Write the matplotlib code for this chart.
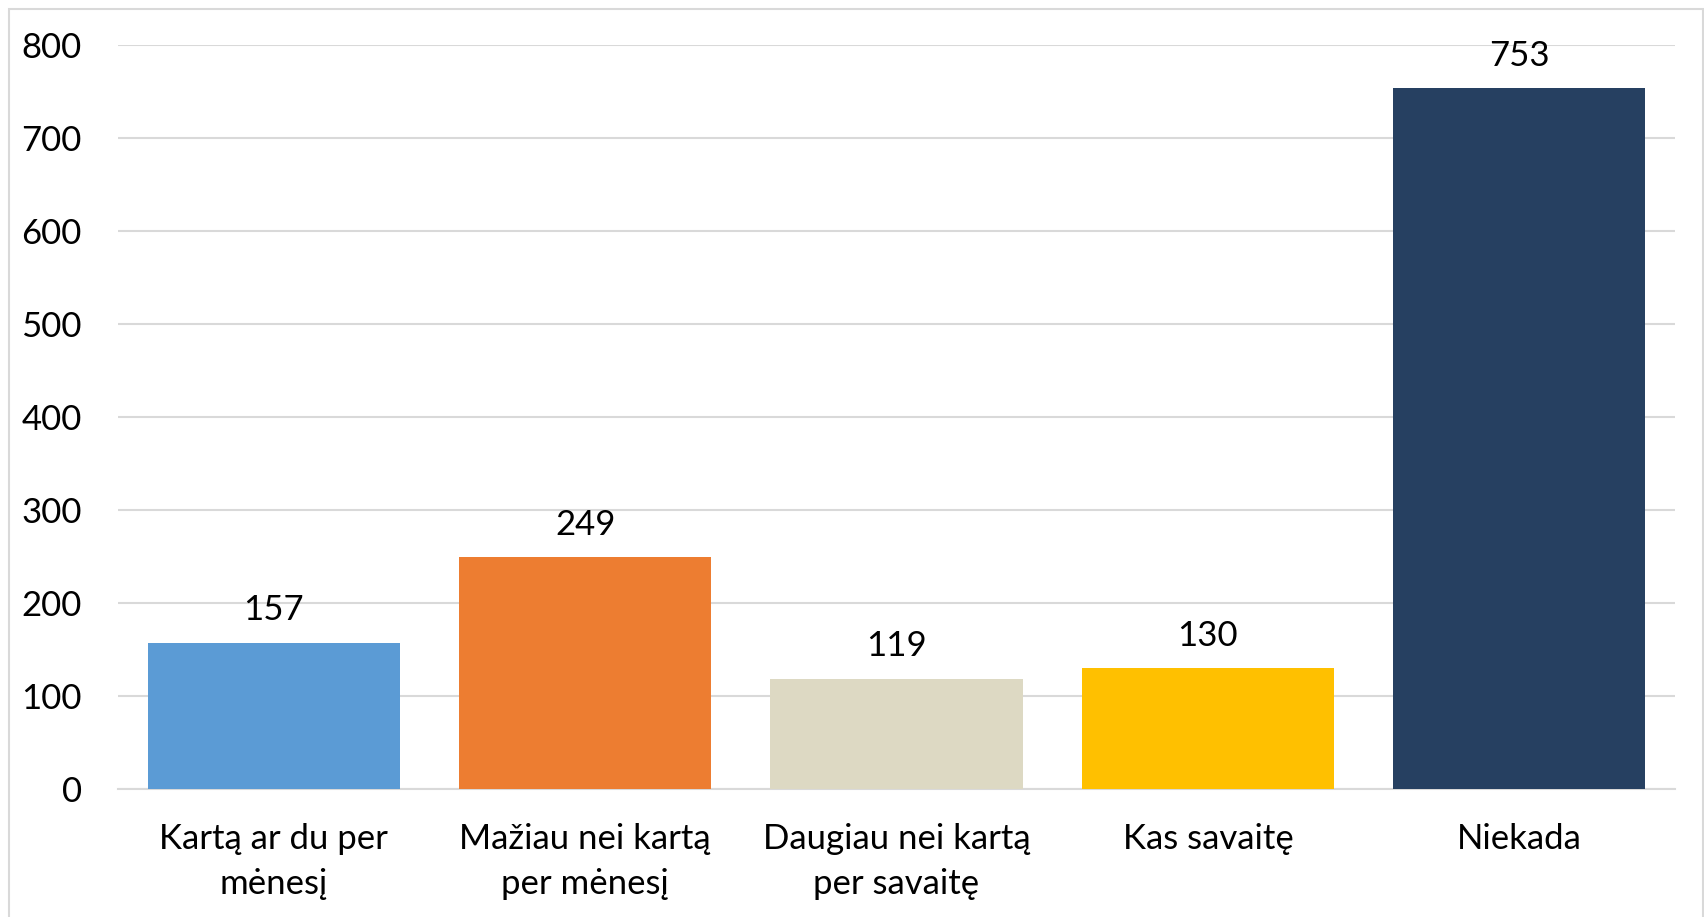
import matplotlib
matplotlib.use("Agg")
import matplotlib.pyplot as plt
from matplotlib.patches import Rectangle

categories = ["Kartą ar du per\nmėnesį", "Mažiau nei kartą\nper mėnesį",
              "Daugiau nei kartą\nper savaitę", "Kas savaitę", "Niekada"]
values = [157, 249, 119, 130, 753]
colors = ["#5B9BD5", "#ED7D31", "#DDD9C3", "#FFC000", "#264061"]
yticks = [0, 100, 200, 300, 400, 500, 600, 700, 800]

plt.rcParams['font.family'] = ['Lato', 'DejaVu Sans']

W, H = 1704, 917
fig = plt.figure(figsize=(W / 100, H / 100), dpi=100)

# axes placed in pixel terms
left, right = 118, 1675
y0, ytop = 789.3, 44.5
ax = fig.add_axes([left / W, (H - y0) / H, (right - left) / W, (y0 - ytop) / H])

fs = 25
x = range(len(categories))
bars = ax.bar(x, values, width=0.81, color=colors, zorder=3)
for b, v in zip(bars, values):
    ax.annotate(str(v), (b.get_x() + b.get_width() / 2, v), xytext=(0, 12),
                textcoords="offset points", ha="center", va="bottom", fontsize=fs)

ax.set_xlim(-0.5, len(categories) - 0.5)
ax.set_ylim(0, 800)
ax.set_yticks(yticks)
ax.set_xticks(list(x))
ax.set_xticklabels(categories, fontsize=fs, linespacing=1.5)
ax.tick_params(axis='y', labelsize=fs, length=0, pad=26)
ax.tick_params(axis='x', length=0, pad=24)
ax.grid(axis='y', color='#D9D9D9', linewidth=1.5, zorder=0)
for s in ['top', 'right', 'left']:
    ax.spines[s].set_visible(False)
ax.spines['bottom'].set_color('#D9D9D9')
ax.spines['bottom'].set_linewidth(1.5)

# chart border
fig.patches.append(Rectangle((9 / W, -0.01), (W - 10) / W, (H - 9) / H + 0.01,
                             transform=fig.transFigure, fill=False,
                             edgecolor='#D9D9D9', linewidth=1.5))

fig.savefig("out.png", dpi=100)
